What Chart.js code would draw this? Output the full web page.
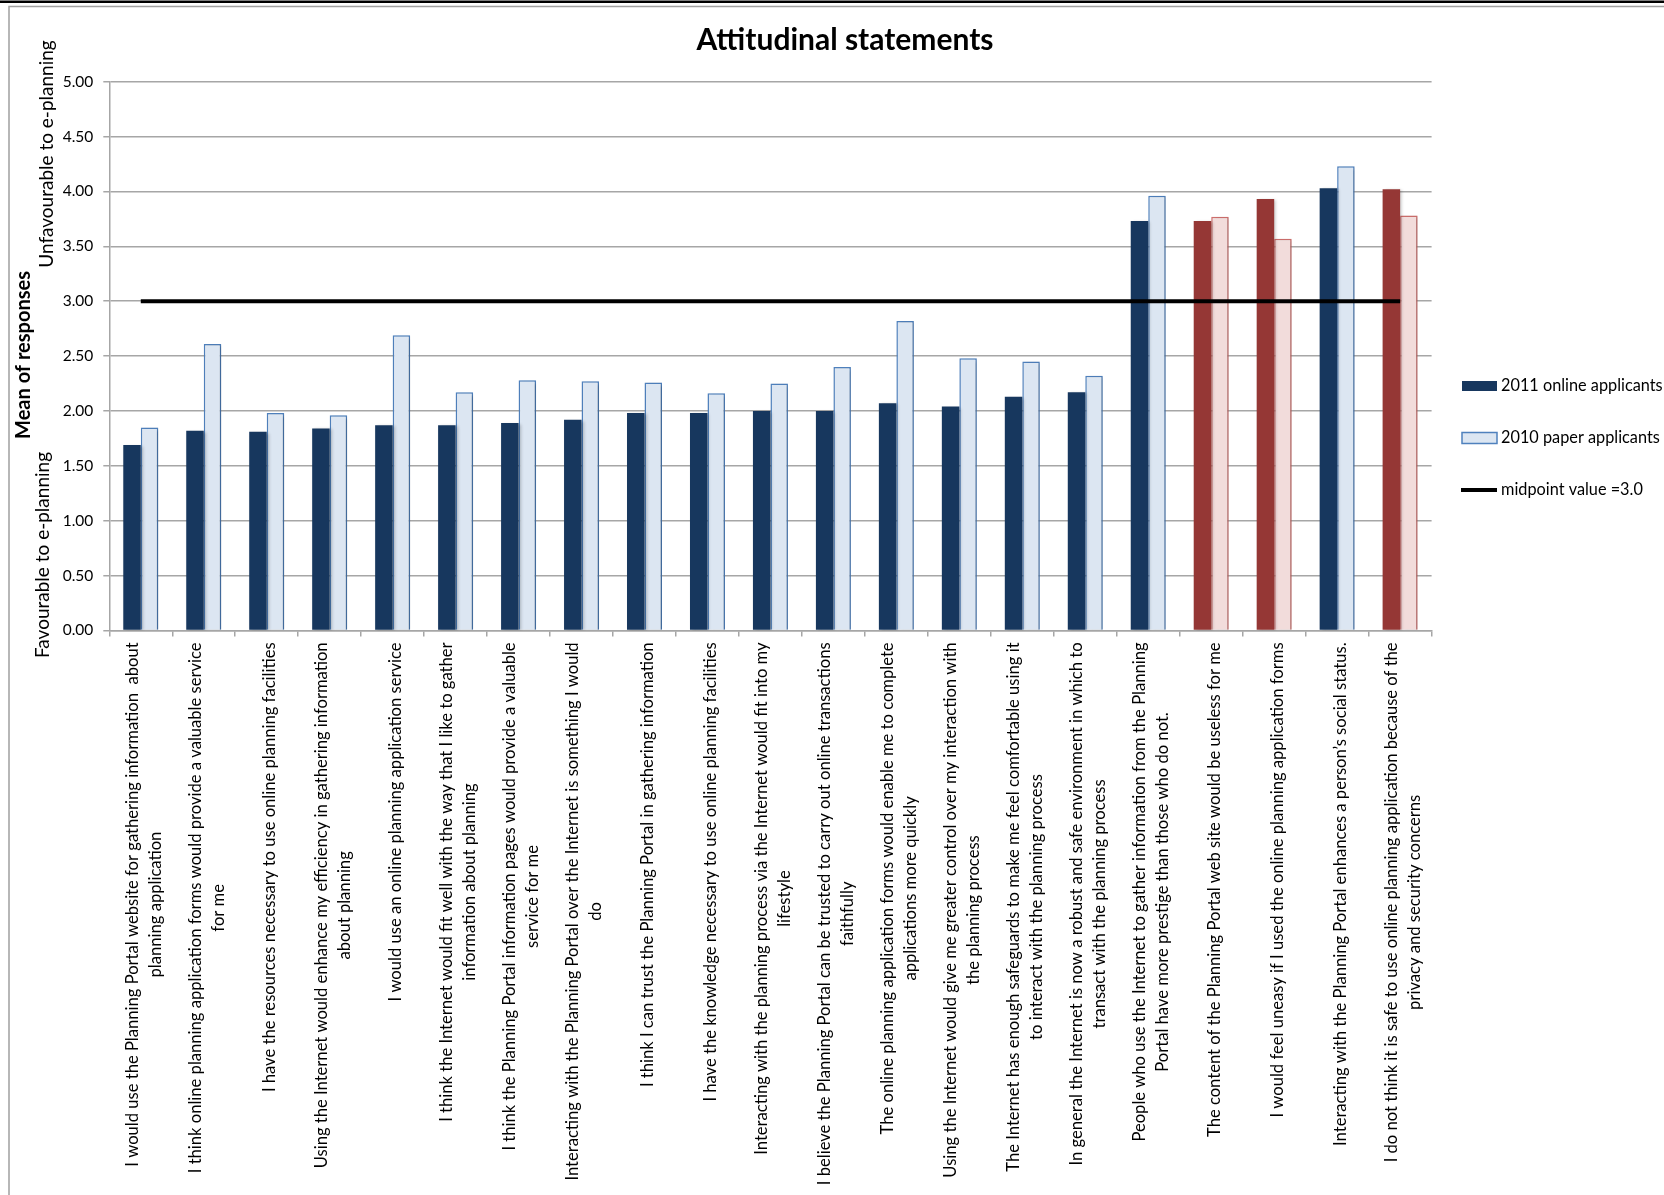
<!DOCTYPE html>
<html>
<head>
<meta charset="utf-8">
<script src="https://cdn.jsdelivr.net/npm/chart.js@4.4.1/dist/chart.umd.min.js"></script>
<style>
  html, body { margin: 0; padding: 0; background: #ffffff; }
  #wrap { width: 1664px; height: 1195px; position: relative; }
</style>
</head>
<body>
<div id="wrap"><canvas id="c" width="1664" height="1195"></canvas></div>
<script>
// ---------- DATA ----------
const chartTitle = 'Attitudinal statements';
const yTitle = 'Mean of responses';
const yTitleUpper = 'Unfavourable to e-planning';
const yTitleLower = 'Favourable to e-planning';

const categories = [
  ['I would use the Planning Portal website for gathering information  about', 'planning application'],
  ['I think online planning application forms would provide a valuable service', 'for me'],
  ['I have the resources necessary to use online planning facilities'],
  ['Using the Internet would enhance my efficiency in gathering information', 'about planning'],
  ['I would use an online planning application service'],
  ['I think the Internet would fit well with the way that I like to gather', 'information about planning'],
  ['I think the Planning Portal information pages would provide a valuable', 'service for me'],
  ['Interacting with the Planning Portal over the Internet is something I would', 'do'],
  ['I think I can trust the Planning Portal in gathering information'],
  ['I have the knowledge necessary to use online planning facilities'],
  ['Interacting with the planning process via the Internet would fit into my', 'lifestyle'],
  ['I believe the Planning Portal can be trusted to carry out online transactions', 'faithfully'],
  ['The online planning application forms would enable me to complete', 'applications more quickly'],
  ['Using the Internet would give me greater control over my interaction with', 'the planning process'],
  ['The Internet has enough safeguards to make me feel comfortable using it', 'to interact with the planning process'],
  ['In general the Internet is now a robust and safe environment in which to', 'transact with the planning process'],
  ['People who use the Internet to gather information from the Planning', 'Portal have more prestige than those who do not.'],
  ['The content of the Planning Portal web site would be useless for me'],
  ['I would feel uneasy if I used the online planning application forms'],
  ['Interacting with the Planning Portal enhances a person\u2019s social status.'],
  ['I do not think it is safe to use online planning application because of the', 'privacy and security concerns']
];

const online2011 = [1.69, 1.82, 1.81, 1.84, 1.87, 1.87, 1.89, 1.92, 1.98, 1.98, 2.00, 2.00, 2.07, 2.04, 2.13, 2.17, 3.73, 3.73, 3.93, 4.03, 4.02];
const paper2010  = [1.85, 2.61, 1.98, 1.96, 2.69, 2.17, 2.28, 2.27, 2.26, 2.16, 2.25, 2.40, 2.82, 2.48, 2.45, 2.32, 3.96, 3.77, 3.57, 4.23, 3.78];
const midpoint   = [3, 3, 3, 3, 3, 3, 3, 3, 3, 3, 3, 3, 3, 3, 3, 3, 3, 3, 3, 3, 3];
// statements scored in reverse (drawn in red)
const reversed   = [false, false, false, false, false, false, false, false, false, false, false, false, false, false, false, false, false, true, true, false, true];

const seriesNames = ['2011 online applicants', '2010 paper applicants', 'midpoint value =3.0'];
const yTicks = { min: 0, max: 5, step: 0.5 };

// ---------- STYLE ----------
const FONT = 'Lato, Carlito, Calibri, "Liberation Sans", sans-serif';
const C_NAVY = '#17375E', C_LBLUE = '#DCE6F2', C_LBLUE_B = '#4F81BD';
const C_RED = '#953735', C_PINK = '#F2DCDB', C_PINK_B = '#D0706E';
const GRID = '#A6A6A6';

const darkColors  = reversed.map(r => r ? C_RED : C_NAVY);
const lightColors = reversed.map(r => r ? C_PINK : C_LBLUE);
const lightBorder = reversed.map(r => r ? C_PINK_B : C_LBLUE_B);

const AREA = { left: 109.3, right: 1431.6, top: 81.7, bottom: 630.4 };

const decor = {
  id: 'decor',
  beforeDraw(chart) {
    const ctx = chart.ctx;
    ctx.save();
    ctx.fillStyle = '#fff';
    ctx.fillRect(0, 0, chart.width, chart.height);
    // frame
    ctx.fillStyle = '#000';
    ctx.fillRect(0, 0.5, chart.width, 2.5);
    ctx.strokeStyle = '#A0A0A0';
    ctx.lineWidth = 1.5;
    ctx.beginPath();
    ctx.moveTo(chart.width, 6.5);
    ctx.lineTo(9, 6.5);
    ctx.lineTo(9, chart.height);
    ctx.stroke();
    ctx.restore();
  },
  beforeDatasetDraw(chart, args) {
    const ds = chart.data.datasets[args.index];
    if (ds.type !== 'line') {
      const ctx = chart.ctx;
      ctx.save();
      ctx.shadowColor = 'rgba(0,0,0,0.22)';
      ctx.shadowBlur = 3;
      ctx.shadowOffsetX = 2;
      ctx.shadowOffsetY = 1;
    }
  },
  afterDatasetDraw(chart, args) {
    const ds = chart.data.datasets[args.index];
    if (ds.type !== 'line') chart.ctx.restore();
  },
  afterDraw(chart) {
    const ctx = chart.ctx;
    const xs = chart.scales.x;
    ctx.save();
    ctx.fillStyle = '#000';

    // title
    ctx.font = 'bold 30px ' + FONT;
    ctx.textAlign = 'center';
    ctx.textBaseline = 'middle';
    ctx.fillText(chartTitle, 845, 40);

    // y-axis titles
    const vtext = (txt, x, y, font) => {
      ctx.save();
      ctx.translate(x, y);
      ctx.rotate(-Math.PI / 2);
      ctx.font = font;
      ctx.textAlign = 'center';
      ctx.textBaseline = 'middle';
      ctx.fillText(txt, 0, 0);
      ctx.restore();
    };
    vtext(yTitle, 24, 355, 'bold 20px ' + FONT);
    vtext(yTitleUpper, 47, 154, '19px ' + FONT);
    vtext(yTitleLower, 43, 555, '19px ' + FONT);

    // category labels (rotated, lines centred)
    ctx.font = '16.6px ' + FONT;
    const lh = 23;
    const startY = xs.top + 12;
    categories.forEach((lines, i) => {
      const cx = xs.getPixelForValue(i) + 3;
      const maxW = Math.max(...lines.map(l => ctx.measureText(l).width));
      const cy = startY + maxW / 2;
      lines.forEach((l, j) => {
        ctx.save();
        ctx.translate(cx + (j - (lines.length - 1) / 2) * lh, cy);
        ctx.rotate(-Math.PI / 2);
        ctx.textAlign = 'center';
        ctx.textBaseline = 'middle';
        ctx.fillText(l, 0, 0);
        ctx.restore();
      });
    });

    // legend
    ctx.font = '16.3px ' + FONT;
    ctx.textAlign = 'left';
    ctx.textBaseline = 'middle';
    const lx = 1462, lw = 35, tx = 1501;
    const ly = [386, 438, 490];
    ctx.fillStyle = C_NAVY;
    ctx.fillRect(lx, ly[0] - 5, lw, 10);
    ctx.fillStyle = C_LBLUE;
    ctx.fillRect(lx, ly[1] - 5.5, lw, 11);
    ctx.strokeStyle = C_LBLUE_B;
    ctx.lineWidth = 1.5;
    ctx.strokeRect(lx, ly[1] - 5.5, lw, 11);
    ctx.strokeStyle = '#000';
    ctx.lineWidth = 4;
    ctx.beginPath();
    ctx.moveTo(lx - 1, ly[2]);
    ctx.lineTo(lx + lw, ly[2]);
    ctx.stroke();
    ctx.fillStyle = '#000';
    seriesNames.forEach((n, i) => ctx.fillText(n, tx, ly[i]));
    ctx.restore();
  }
};

new Chart(document.getElementById('c'), {
  data: {
    labels: categories,
    datasets: [
      {
        type: 'line',
        label: seriesNames[2],
        data: midpoint,
        borderColor: '#000',
        borderWidth: 4,
        pointRadius: 0,
        order: 0
      },
      {
        type: 'bar',
        label: seriesNames[0],
        data: online2011,
        backgroundColor: darkColors,
        borderWidth: 0,
        order: 1
      },
      {
        type: 'bar',
        label: seriesNames[1],
        data: paper2010,
        backgroundColor: lightColors,
        borderColor: lightBorder,
        borderWidth: 1.5,
        order: 1
      }
    ]
  },
  options: {
    responsive: false,
    animation: false,
    devicePixelRatio: 1,
    layout: { padding: { left: 0, right: 1664 - AREA.right, top: AREA.top, bottom: 0 } },
    datasets: { bar: { categoryPercentage: 0.556, barPercentage: 1.0 } },
    plugins: {
      legend: { display: false },
      title: { display: false },
      tooltip: { enabled: true }
    },
    scales: {
      x: {
        offset: true,
        grid: { display: true, drawOnChartArea: false, drawTicks: true, tickLength: 6, color: GRID, lineWidth: 1.5, offset: true },
        border: { display: true, color: GRID, width: 1.5 },
        ticks: { display: false },
        afterFit(s) { s.height = 1195 - AREA.bottom; }
      },
      y: {
        min: yTicks.min,
        max: yTicks.max,
        ticks: {
          stepSize: yTicks.step,
          color: '#000',
          padding: 10,
          font: { family: FONT, size: 15.5 },
          callback: v => Number(v).toFixed(2)
        },
        grid: { color: GRID, lineWidth: 1.5, drawTicks: true, tickLength: 6 },
        border: { display: true, color: GRID, width: 1.5 },
        afterFit(s) { s.width = AREA.left; }
      }
    }
  },
  plugins: [decor]
});
</script>
</body>
</html>
